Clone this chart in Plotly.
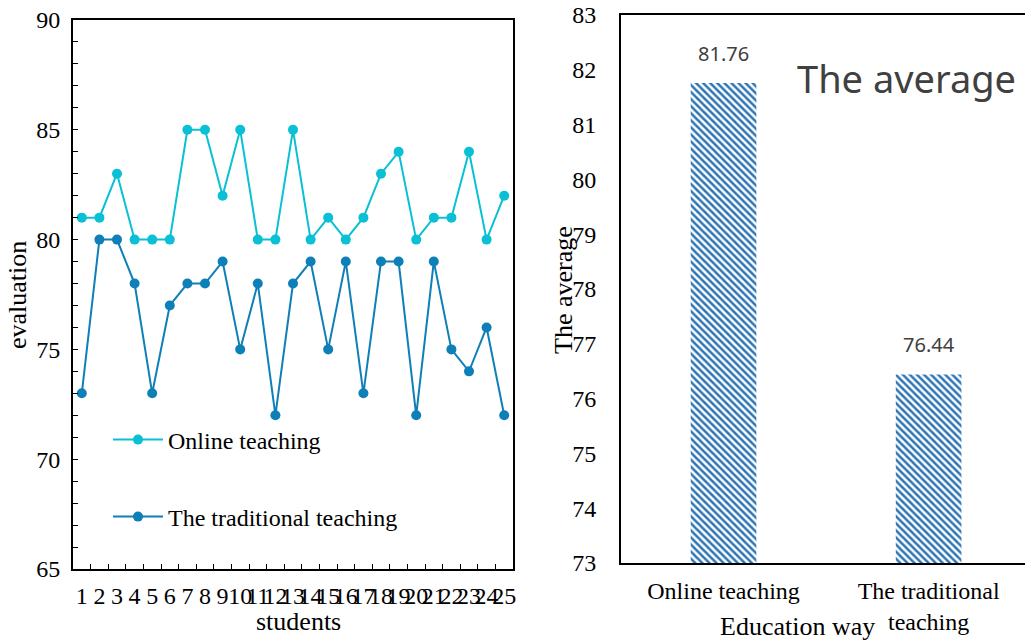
import plotly.graph_objects as go

# Per-student evaluation scores
students = [str(i) for i in range(1, 26)]
online_scores = [81, 81, 83, 80, 80, 80, 85, 85, 82, 85, 80, 80, 85,
                 80, 81, 80, 81, 83, 84, 80, 81, 81, 84, 80, 82]
traditional_scores = [73, 80, 80, 78, 73, 77, 78, 78, 79, 75, 78, 72, 78,
                      79, 75, 79, 73, 79, 79, 72, 79, 75, 74, 76, 72]

# Averages per education way
ways = ["Online teaching", "The traditional<br>teaching"]
averages = [81.76, 76.44]

ONLINE_C = "#0AC0D4"
TRAD_C = "#0F7FB8"
BAR_C = "#2E75B6"
SERIF = "Liberation Serif"
SANS = "Noto Sans"

W, H = 1025, 641

fig = go.Figure()

fig.add_trace(go.Scatter(
    x=students, y=online_scores, name="Online teaching",
    mode="lines+markers", line=dict(color=ONLINE_C, width=2),
    marker=dict(color=ONLINE_C, size=10), xaxis="x", yaxis="y",
    legend="legend"))
fig.add_trace(go.Scatter(
    x=students, y=traditional_scores, name="The traditional teaching",
    mode="lines+markers", line=dict(color=TRAD_C, width=2),
    marker=dict(color=TRAD_C, size=10), xaxis="x", yaxis="y",
    legend="legend2"))

fig.add_trace(go.Bar(
    x=ways, y=averages, width=0.32,
    marker=dict(color="white", line=dict(width=0),
                pattern=dict(shape="\\", fgcolor=BAR_C, bgcolor="white",
                             size=5, solidity=0.5, fillmode="replace")),
    showlegend=False, xaxis="x2", yaxis="y2"))

fig.update_layout(
    width=W, height=H,
    margin=dict(l=0, r=0, t=0, b=0),
    plot_bgcolor="white", paper_bgcolor="white",
    font=dict(family=SERIF, size=24, color="black"),
    xaxis=dict(
        domain=[73 / W, 513 / W], type="category",
        range=[-0.5, 24.5], tickmode="linear", dtick=1,
        tickson="boundaries", ticks="inside", ticklen=5, tickcolor="black",
        tickangle=0, showline=True, linecolor="black", linewidth=2,
        mirror=True, showgrid=False, zeroline=False, automargin=False,
        ticklabelstandoff=4, tickfont=dict(size=24),
    ),
    yaxis=dict(
        domain=[1 - 569 / H, 1 - 20 / H], range=[65, 90], dtick=5,
        ticks="inside", ticklen=5, tickcolor="black",
        minor=dict(dtick=1, ticks="inside", ticklen=5, tickcolor="black"),
        showline=True, linecolor="black", linewidth=2, mirror=True,
        showgrid=False, zeroline=False, automargin=False,
        ticklabelstandoff=6, tickfont=dict(size=24),
    ),
    xaxis2=dict(
        domain=[621 / W, 1.0], type="category", range=[-0.5, 1.47],
        showline=True, linecolor="black", linewidth=2, mirror=True,
        ticks="", showgrid=False, zeroline=False, automargin=False,
        ticklabelstandoff=5, tickfont=dict(size=24), anchor="y2",
    ),
    yaxis2=dict(
        domain=[1 - 563 / H, 1 - 15 / H], range=[73, 83], dtick=1,
        showline=True, linecolor="black", linewidth=2, mirror=False,
        ticks="", showgrid=False, zeroline=False, automargin=False,
        ticklabelstandoff=18, tickfont=dict(size=24), anchor="x2",
    ),
    legend=dict(
        x=108 / W, y=1 - 440 / H, xanchor="left", yanchor="middle",
        bgcolor="rgba(0,0,0,0)", font=dict(family=SERIF, size=24),
        itemwidth=50,
    ),
    legend2=dict(
        x=108 / W, y=1 - 517 / H, xanchor="left", yanchor="middle",
        bgcolor="rgba(0,0,0,0)", font=dict(family=SERIF, size=24),
        itemwidth=50,
    ),
)

annotations = [
    dict(text="students", x=298 / W, y=1 - 621 / H),
    dict(text="evaluation", x=17 / W, y=1 - 295 / H, textangle=-90),
    dict(text="Education way", x=797 / W, y=1 - 626 / H),
    dict(text="The average", x=564 / W, y=1 - 290 / H, textangle=-90),
]
for a in annotations:
    a.update(xref="paper", yref="paper", xanchor="center", yanchor="middle",
             showarrow=False, font=dict(family=SERIF, size=26))

annotations.append(dict(
    text="The average", x=906 / W, y=1 - 78 / H, xref="paper", yref="paper",
    xanchor="center", yanchor="middle", showarrow=False,
    font=dict(family=SANS, size=38, color="#404040")))

# Value labels above each bar
for way, avg in zip(ways, averages):
    annotations.append(dict(
        text=f"{avg:.2f}", x=way, y=avg, xref="x2", yref="y2",
        xanchor="center", yanchor="bottom", yshift=14, showarrow=False,
        font=dict(family=SANS, size=20, color="#404040")))

fig.update_layout(annotations=annotations)

fig.write_html("out.html")
